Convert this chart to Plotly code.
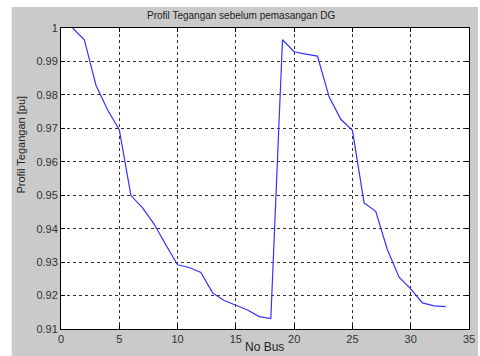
import plotly.graph_objects as go

bus = list(range(1, 34))
voltage = [1.0, 0.9965, 0.9829, 0.9755, 0.9696, 0.9499, 0.9462, 0.9413, 0.9351, 0.9292,
           0.9284, 0.9269, 0.9208, 0.9185, 0.9171, 0.9157, 0.9137, 0.9131, 0.9965, 0.9929,
           0.9922, 0.9916, 0.9794, 0.9727, 0.9694, 0.9477, 0.9452, 0.9337, 0.9255, 0.9220,
           0.9178, 0.9169, 0.9167]

x_ticks = [0, 5, 10, 15, 20, 25, 30, 35]
x_ticktext = ["0", "5", "10", "15", "20", "25", "30", "35"]
y_ticks = [0.91, 0.92, 0.93, 0.94, 0.95, 0.96, 0.97, 0.98, 0.99, 1.0]
y_ticktext = ["0.91", "0.92", "0.93", "0.94", "0.95", "0.96", "0.97", "0.98", "0.99", "1"]

title_text = "Profil Tegangan sebelum pemasangan DG"
x_title = "No Bus"
y_title = "Profil Tegangan [pu]"

W, H = 480, 356
ml, mr, mt, mb = 61, 5, 28, 27
pw, ph = W - ml - mr, H - mt - mb

fig = go.Figure()
fig.add_trace(go.Scatter(x=bus, y=voltage, mode="lines",
                         line=dict(color="#3333ff", width=1.2), showlegend=False))

font_family = "Liberation Sans, Arial, sans-serif"
axis_common = dict(showline=True, linecolor="black", linewidth=1, mirror="ticks",
                   ticks="inside", ticklen=4, tickcolor="black",
                   showgrid=True, gridcolor="#333333", griddash="dot", gridwidth=1,
                   zeroline=False, ticklabeloverflow="allow",
                   tickfont=dict(family=font_family, size=11, color="#333333"))

fig.update_xaxes(range=[0, 35], tickvals=x_ticks, ticktext=x_ticktext, **axis_common)
fig.update_yaxes(range=[0.91, 1.0], tickvals=y_ticks, ticktext=y_ticktext, **axis_common)

# gray figure background (MATLAB-like), white strip at far left/top
gx0 = (11 - ml) / pw
gx1 = (W - ml) / pw
gy1 = (H - mb - 7) / ph
gy0 = -mb / ph - 0.01
fig.add_shape(type="rect", xref="paper", yref="paper", x0=gx0, x1=gx1 + 0.01, y0=gy0, y1=gy1,
              fillcolor="#cacaca", line=dict(width=0), layer="below")
fig.add_shape(type="rect", xref="x domain", yref="y domain", x0=0, x1=1, y0=0, y1=1,
              fillcolor="white", line=dict(width=0), layer="below")

fig.add_annotation(text=title_text, xref="paper", yref="paper",
                   x=(244 - ml) / pw, y=(H - mb - 15) / ph, xanchor="center", yanchor="middle",
                   showarrow=False, font=dict(family=font_family, size=10, color="#222222"))
fig.add_annotation(text=x_title, xref="paper", yref="paper",
                   x=(267 - ml) / pw, y=(H - mb - 347) / ph, xanchor="center", yanchor="middle",
                   showarrow=False, font=dict(family=font_family, size=12, color="#222222"))
fig.add_annotation(text=y_title, xref="paper", yref="paper", textangle=-90,
                   x=(20 - ml) / pw, y=(H - mb - 145) / ph, xanchor="center", yanchor="middle",
                   showarrow=False, font=dict(family=font_family, size=11, color="#222222"))

fig.update_layout(width=W, height=H, margin=dict(l=ml, r=mr, t=mt, b=mb),
                  paper_bgcolor="white", plot_bgcolor="white")

fig.write_html("out.html")
